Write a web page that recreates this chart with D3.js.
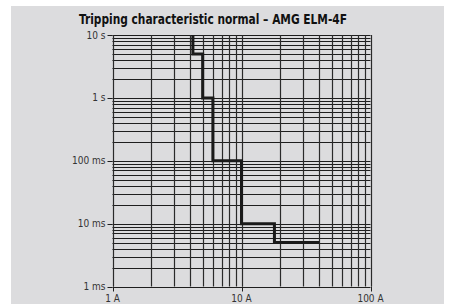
<!DOCTYPE html>
<html>
<head>
<meta charset="utf-8">
<script src="https://cdn.jsdelivr.net/npm/d3@7"></script>
<style>
	html, body { margin: 0; padding: 0; background: #fff; }
	svg { display: block; }
	.lbl { font-family: "Liberation Sans Narrow", "DejaVu Sans Condensed", "Roboto", sans-serif; fill: #333; font-size: 10px; }
	.title { font-family: "Liberation Sans Narrow", "DejaVu Sans Condensed", "Roboto", sans-serif; font-weight: bold; fill: #111; font-size: 14px; }
</style>
</head>
<body>
<script>
// tripping curve, current in A / time in s
const currentA = [4.2, 4.2, 5, 5, 6, 6, 10, 10, 18, 18, 40];
const timeS = [10, 5, 5, 1, 1, 0.1, 0.1, 0.01, 0.01, 0.005, 0.005];

const xTickValues = [1, 10, 100];
const xTickLabels = ["1 A", "10 A", "100 A"];
const yTickValues = [10, 1, 0.1, 0.01, 0.001];
const yTickLabels = ["10 s", "1 s", "100 ms", "10 ms", "1 ms"];

const titleText = "Tripping characteristic normal \u2013 AMG ELM-4F";

var W = 451, H = 304;
var svg = d3.select("body").append("svg")
	.attr("width", W)
	.attr("height", H);

// gray panel
svg.append("rect")
	.attr("x", 11).attr("y", 6)
	.attr("width", 433).attr("height", H - 6)
	.attr("fill", "#dcdcde");

var x = d3.scaleLog().domain([1, 100]).range([112.5, 370.5]),
	y = d3.scaleLog().domain([0.001, 10]).range([286.5, 35]);

var g = svg.append("g");

// horizontal grid
g.selectAll("line.h")
	.data(y.ticks())
	.enter().append("line")
		.attr("class", "h")
		.attr("x1", x(1)).attr("x2", x(100))
		.attr("y1", function(d) { return Math.round(y(d)) + 0.5; })
		.attr("y2", function(d) { return Math.round(y(d)) + 0.5; })
		.attr("stroke", "#1e1e1e")
		.attr("stroke-width", 1);

// vertical grid
g.selectAll("line.v")
	.data(x.ticks())
	.enter().append("line")
		.attr("class", "v")
		.attr("y1", y(10)).attr("y2", y(0.001))
		.attr("x1", function(d) { return Math.round(x(d)) + 0.5; })
		.attr("x2", function(d) { return Math.round(x(d)) + 0.5; })
		.attr("stroke", "#2a2a2a")
		.attr("stroke-width", 1.2);

// axis ticks
g.selectAll("line.yt")
	.data(yTickValues)
	.enter().append("line")
		.attr("x1", x(1) - 5).attr("x2", x(1))
		.attr("y1", function(d) { return Math.round(y(d)) + 0.5; })
		.attr("y2", function(d) { return Math.round(y(d)) + 0.5; })
		.attr("stroke", "#1e1e1e");

g.selectAll("line.xt")
	.data(xTickValues)
	.enter().append("line")
		.attr("y1", y(0.001)).attr("y2", y(0.001) + 5)
		.attr("x1", function(d) { return Math.round(x(d)) + 0.5; })
		.attr("x2", function(d) { return Math.round(x(d)) + 0.5; })
		.attr("stroke", "#1e1e1e");

// labels
g.selectAll("text.yl")
	.data(yTickValues)
	.enter().append("text")
		.attr("class", "lbl")
		.attr("x", x(1) - 7)
		.attr("y", function(d) { return y(d) + 3.5; })
		.attr("text-anchor", "end")
		.text(function(d, i) { return yTickLabels[i]; });

g.selectAll("text.xl")
	.data(xTickValues)
	.enter().append("text")
		.attr("class", "lbl")
		.attr("x", function(d) { return x(d); })
		.attr("y", 302)
		.attr("text-anchor", "middle")
		.text(function(d, i) { return xTickLabels[i]; });

// curve
var line = d3.line()
	.x(function(d) { return x(d[0]); })
	.y(function(d) { return y(d[1]); });

g.append("path")
	.datum(d3.zip(currentA, timeS))
	.attr("d", line)
	.attr("fill", "none")
	.attr("stroke", "#1a1a1a")
	.attr("stroke-width", 3);

svg.append("text")
	.attr("class", "title")
	.attr("x", 79)
	.attr("y", 24)
	.attr("textLength", 268)
	.attr("lengthAdjust", "spacingAndGlyphs")
	.text(titleText);
</script>
</body>
</html>
